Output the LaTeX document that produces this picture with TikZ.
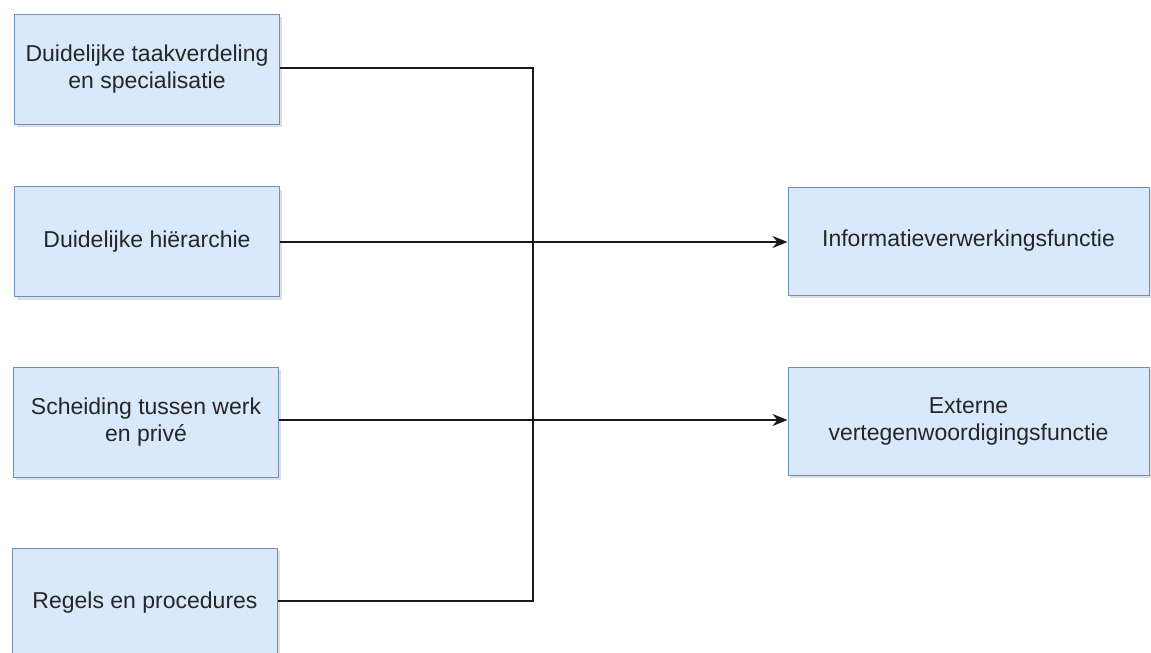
\documentclass[tikz,border=0pt]{standalone}
\usepackage{fontspec}
\setmainfont{Liberation Sans}
\usepackage{tikz}
\usetikzlibrary{arrows.meta}
\usetikzlibrary{shadows}
\definecolor{boxfill}{HTML}{DAE8FC}
\definecolor{boxline}{HTML}{6C8EBF}
\tikzstyle{block}=[draw=boxline, fill=boxfill, line width=1pt, align=center,
  inner sep=0pt, font=\fontsize{23}{27}\selectfont\color{black!85},
  drop shadow={shadow xshift=2pt, shadow yshift=-3pt, opacity=0.25}]
\tikzstyle{lblock}=[block, minimum width=265pt, minimum height=110pt]
\tikzstyle{rblock}=[block, minimum width=361pt, minimum height=108pt]
\tikzstyle{wire}=[line width=1.8pt, black!90]

\begin{document}
\begin{tikzpicture}[x=1pt, y=-1pt]
        \useasboundingbox (0, 0) rectangle (1151, 653);
        \node[lblock] (L1) at (147, 69)    {Duidelijke taakverdeling\\en specialisatie};
        \node[lblock] (L2) at (147, 241.5) {Duidelijke hiërarchie};
        \node[lblock] (L3) at (146, 422)   {Scheiding tussen werk\\en privé};
        \node[lblock] (L4) at (145, 603)   {Regels en procedures};
        \node[rblock] (R1) at (968.5, 241) {Informatieverwerkingsfunctie};
        \node[rblock] (R2) at (968.5, 421) {Externe\\vertegenwoordigingsfunctie};
        \coordinate (J) at (533, 0);
        \draw[wire] (L1.east |- 0,68) -- (J |- 0,68) -- (J |- 0,601) -- (L4.east |- 0,601);
        \draw[wire, -{Stealth[length=15pt, width=12pt]}] (L2.east |- 0,242) -- (R1.west |- 0,242);
        \draw[wire, -{Stealth[length=15pt, width=12pt]}] (L3.east |- 0,420) -- (R2.west |- 0,420);
    \end{tikzpicture}
\end{document}
